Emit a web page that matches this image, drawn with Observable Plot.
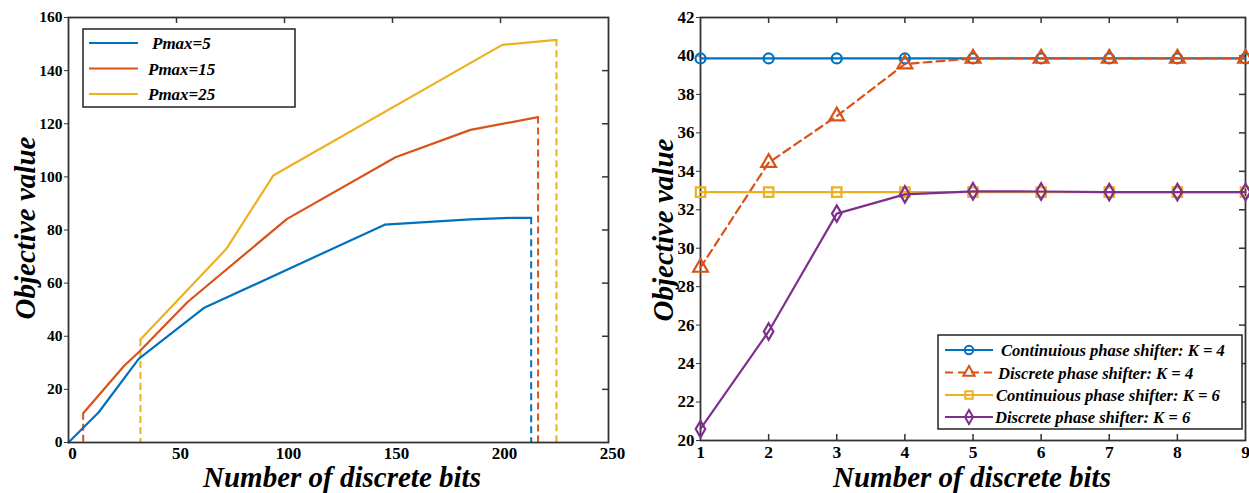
<!DOCTYPE html>
<html><head><meta charset="utf-8">
<script src="https://cdn.jsdelivr.net/npm/d3@7"></script>
<script src="https://cdn.jsdelivr.net/npm/@observablehq/plot@0.6"></script>
<style>
html,body{margin:0;padding:0;background:#fff;}
body{width:1249px;height:493px;overflow:hidden;position:relative;font-family:"Liberation Serif","Times New Roman",serif;}
.panel{position:absolute;top:0;}
.panel svg{overflow:visible;}
.atitle{position:absolute;font:italic bold 29px "Liberation Serif",serif;color:#000;white-space:nowrap;line-height:1;}
#overlay{position:absolute;left:0;top:0;pointer-events:none;}
</style></head>
<body>
<div id="left" class="panel" style="left:0"></div>
<div id="right" class="panel" style="left:640px"></div>
<div class="atitle" style="left:342px;top:486px;transform:translate(-50%,-80%)">Number of discrete bits</div>
<div class="atitle" style="left:972px;top:486px;transform:translate(-50%,-80%)">Number of discrete bits</div>
<div class="atitle" id="yl1">Objective value</div>
<div class="atitle" id="yl2">Objective value</div>
<script>
// ---------- Left chart data ----------
const leftNames = ["Pmax=5", "Pmax=15", "Pmax=25"];
const bits5  = [0, 14, 32.5, 62.6, 146.4, 186, 206, 214.2];
const obj5   = [0, 11.4, 31.5, 50.6, 82, 84, 84.6, 84.6];
const bits15 = [6.8, 25.9, 32.5, 55, 101.2, 151.4, 186.1, 217.4];
const obj15  = [11, 29, 34, 52.8, 84.2, 107.4, 117.7, 122.5];
const bits25 = [33.3, 73.1, 94.8, 200.8, 225.9];
const obj25  = [38.8, 72.9, 100.5, 149.7, 151.6];
const leftXTicks = [0, 50, 100, 150, 200, 250];
const leftYTicks = [0, 20, 40, 60, 80, 100, 120, 140, 160];

// ---------- Right chart data ----------
const rightNames = ["Continuious phase shifter: K = 4", "Discrete phase shifter: K = 4",
                    "Continuious phase shifter: K = 6", "Discrete phase shifter: K = 6"];
const bitsR  = [1, 2, 3, 4, 5, 6, 7, 8, 9];
const cont4  = [39.87, 39.87, 39.87, 39.87, 39.87, 39.87, 39.87, 39.87, 39.87];
const disc4  = [29.0, 34.45, 36.87, 39.58, 39.87, 39.87, 39.87, 39.87, 39.87];
const cont6  = [32.92, 32.92, 32.92, 32.92, 32.92, 32.92, 32.92, 32.92, 32.92];
const disc6  = [20.6, 25.67, 31.8, 32.8, 32.96, 32.95, 32.92, 32.92, 32.92];
const rightYTicks = [20, 22, 24, 26, 28, 30, 32, 34, 36, 38, 40, 42];

// ---------- styles ----------
const leftColors = ["#0072BD", "#D95319", "#EDB120"];
const rightColors = ["#0072BD", "#D95319", "#EDB120", "#7E2F8E"];
const rightSymbols = ["circle", "triangle", "square", "diamond"];
const frameColor = "#333";

// ---------- build left ----------
const leftSeries = [[bits5, obj5], [bits15, obj15], [bits25, obj25]];
const Lrows = [];
const drops = [];
leftSeries.forEach(([xs, ys], k) => {
  xs.forEach((x, i) => Lrows.push({series: leftNames[k], x, y: ys[i]}));
  const n = xs.length - 1;
  if (ys[0] > 0) drops.push({series: leftNames[k], x: xs[0], y1: ys[0], y2: 0});
  drops.push({series: leftNames[k], x: xs[n], y1: ys[n], y2: 0});
});

const LW = 640, LH = 493, LmL = 68, LmR = 32, LmT = 17, LmB = 51;
const LpW = LW - LmL - LmR, LpH = LH - LmT - LmB;
const left = Plot.plot({
  width: LW, height: LH, marginLeft: LmL, marginRight: LmR, marginTop: LmT, marginBottom: LmB,
  x: {domain: [0, 250]}, y: {domain: [0, 160]},
  color: {domain: leftNames, range: leftColors},
  style: {fontFamily: "Liberation Serif", fontWeight: "bold", color: "#000", background: "transparent"},
  marks: [
    Plot.ruleX(drops, {x: "x", y1: "y1", y2: "y2", stroke: "series", strokeWidth: 2, strokeDasharray: "7,4"}),
    Plot.line(Lrows, {x: "x", y: "y", z: "series", stroke: "series", strokeWidth: 2.2}),
    Plot.frame({stroke: frameColor, strokeWidth: 1.8}),
    Plot.axisX({ticks: leftXTicks, tickSize: 0, tickPadding: 4, dx: 4, fontSize: 17, label: null, tickFormat: d => d}),
    Plot.axisY({ticks: leftYTicks, tickSize: 4, tickPadding: 2, fontSize: 15.5, label: null, tickFormat: d => d, stroke: frameColor}),
    Plot.tickX(leftXTicks.slice(1, -1), {x: d => d, insetBottom: LpH - 6, stroke: frameColor, strokeWidth: 1.5}),
    Plot.tickY(leftYTicks.slice(1, -1), {y: d => d, insetLeft: LpW - 6, stroke: frameColor, strokeWidth: 1.5})
  ]
});
document.getElementById("left").append(left);

// ---------- build right ----------
const rightSeries = [cont4, disc4, cont6, disc6];
const Rrows = [];
rightSeries.forEach((ys, k) => bitsR.forEach((x, i) => Rrows.push({series: rightNames[k], x, y: ys[i]})));
const RW = 609, RH = 493, RmL = 60, RmR = 4, RmT = 17, RmB = 53;
const RpW = RW - RmL - RmR, RpH = RH - RmT - RmB;
const rightMarks = [];
rightNames.forEach((name, k) => {
  const rows = Rrows.filter(d => d.series === name);
  rightMarks.push(Plot.line(rows, {x: "x", y: "y", stroke: rightColors[k], strokeWidth: 2.2,
    strokeDasharray: k === 1 ? "8,5" : null}));
  rightMarks.push(Plot.dot(rows, {x: "x", y: "y", symbol: () => rightSymbols[k], stroke: rightColors[k],
    fill: "none", strokeWidth: 2.2, r: k === 1 ? 5.5 : k === 2 ? 5.3 : 5}));
});
const right = Plot.plot({
  width: RW, height: RH, marginLeft: RmL, marginRight: RmR, marginTop: RmT, marginBottom: RmB,
  x: {domain: [1, 9]}, y: {domain: [20, 42]},
  symbol: {domain: rightSymbols, range: rightSymbols},
  style: {fontFamily: "Liberation Serif", fontWeight: "bold", color: "#000", background: "transparent"},
  marks: [
    Plot.frame({stroke: frameColor, strokeWidth: 1.8}),
    Plot.axisX({ticks: bitsR, tickSize: 0, tickPadding: 5, fontSize: 17.5, label: null, tickFormat: d => d}),
    Plot.axisY({ticks: rightYTicks, tickSize: 4, tickPadding: 2, fontSize: 17, label: null, tickFormat: d => d, stroke: frameColor}),
    Plot.tickX(bitsR.slice(1, -1), {x: d => d, insetBottom: RpH - 6, stroke: frameColor, strokeWidth: 1.5}),
    Plot.tickX(bitsR.slice(1, -1), {x: d => d, insetTop: RpH - 6, stroke: frameColor, strokeWidth: 1.5}),
    Plot.tickY(rightYTicks.slice(1, -1), {y: d => d, insetLeft: RpW - 6, stroke: frameColor, strokeWidth: 1.5}),
    ...rightMarks
  ]
});
document.getElementById("right").append(right);

// ---------- rotated y titles ----------
function placeY(id, baselineX, centerY) {
  const el = document.getElementById(id);
  el.style.left = baselineX + "px";
  el.style.top = centerY + "px";
  el.style.transformOrigin = "0 0";
  el.style.transform = "rotate(-90deg) translate(-50%, -80%)";
}
placeY("yl1", 34, 228);
placeY("yl2", 672, 230);

// ---------- legends ----------
const ov = d3.select("body").append("svg").attr("id", "overlay").attr("width", 1249).attr("height", 493);
// left legend
const lg = ov.append("g");
lg.append("rect").attr("x", 83).attr("y", 29).attr("width", 212).attr("height", 78)
  .attr("fill", "#fff").attr("stroke", "#222").attr("stroke-width", 1.5);
const lRowsY = [43, 68.5, 94];
const lTextX = [152, 148, 148];
leftNames.forEach((name, k) => {
  lg.append("line").attr("x1", 89).attr("x2", 138).attr("y1", lRowsY[k]).attr("y2", lRowsY[k])
    .attr("stroke", leftColors[k]).attr("stroke-width", 2.2);
  lg.append("text").attr("x", lTextX[k]).attr("y", lRowsY[k] + 6).text(name)
    .attr("font-family", "Liberation Serif").attr("font-weight", "bold").attr("font-style", "italic")
    .attr("font-size", 17);
});
// right legend
const rg = ov.append("g");
rg.append("rect").attr("x", 938).attr("y", 335).attr("width", 304).attr("height", 94)
  .attr("fill", "#fff").attr("stroke", "#222").attr("stroke-width", 1.5);
const rRowsY = [350, 372.5, 395, 417];
const rTextX = [1001, 998, 996, 995];
const symMap = {circle: d3.symbolCircle, triangle: d3.symbolTriangle, square: d3.symbolSquare, diamond: d3.symbolDiamond};
rightNames.forEach((name, k) => {
  rg.append("line").attr("x1", 945).attr("x2", 993).attr("y1", rRowsY[k]).attr("y2", rRowsY[k])
    .attr("stroke", rightColors[k]).attr("stroke-width", 2.2)
    .attr("stroke-dasharray", k === 1 ? "8,5" : null);
  const r = 4.2;
  rg.append("path").attr("transform", `translate(969,${rRowsY[k]})`)
    .attr("d", d3.symbol(symMap[rightSymbols[k]], Math.PI * r * r)())
    .attr("fill", "none").attr("stroke", rightColors[k]).attr("stroke-width", 2);
  rg.append("text").attr("x", rTextX[k]).attr("y", rRowsY[k] + 6).text(name)
    .attr("font-family", "Liberation Serif").attr("font-weight", "bold").attr("font-style", "italic")
    .attr("font-size", 16.6);
});
</script>
</body></html>
